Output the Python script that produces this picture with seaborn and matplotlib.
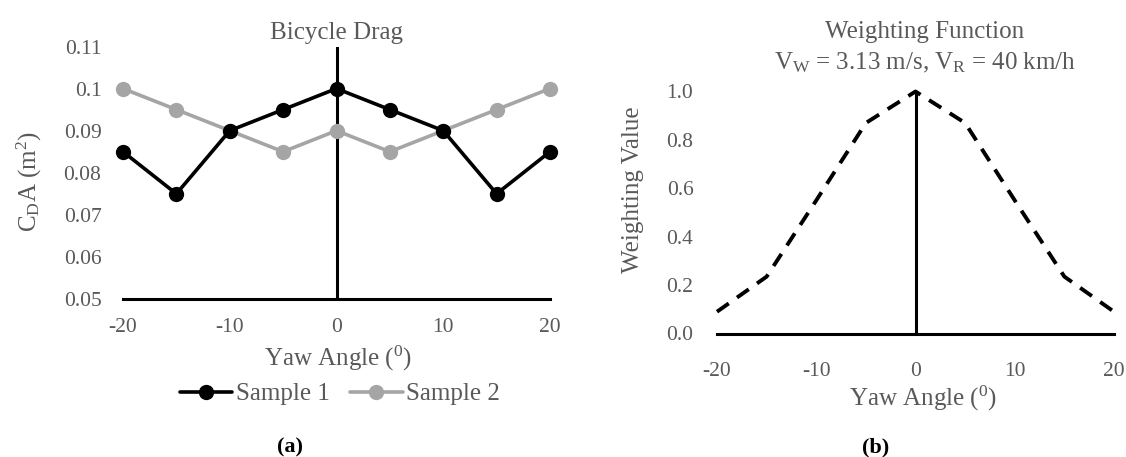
import matplotlib
matplotlib.use("Agg")
import matplotlib.pyplot as plt
import seaborn as sns
import pandas as pd

# ---- data ----
yaw = [-20, -15, -10, -5, 0, 5, 10, 15, 20]
sample1 = [0.085, 0.075, 0.09, 0.095, 0.10, 0.095, 0.09, 0.075, 0.085]
sample2 = [0.10, 0.095, 0.09, 0.085, 0.09, 0.085, 0.09, 0.095, 0.10]
weight = [0.09, 0.235, 0.55, 0.87, 1.0, 0.87, 0.55, 0.235, 0.09]

ya_ticks = [0.05, 0.06, 0.07, 0.08, 0.09, 0.10, 0.11]
ya_labels = ["0.05", "0.06", "0.07", "0.08", "0.09", "0.1", "0.11"]
yb_ticks = [0.0, 0.2, 0.4, 0.6, 0.8, 1.0]
yb_labels = ["0.0", "0.2", "0.4", "0.6", "0.8", "1.0"]
x_ticks = [-20, -10, 0, 10, 20]
x_labels = ["-20", "-10", "0", "10", "20"]

sns.set_style("white")
plt.rcParams['font.family'] = ['Liberation Serif', 'DejaVu Serif']
plt.rcParams['mathtext.fontset'] = 'custom'
plt.rcParams['mathtext.rm'] = 'Liberation Serif'
plt.rcParams['mathtext.it'] = 'Liberation Serif:italic'
plt.rcParams['mathtext.bf'] = 'Liberation Serif:bold'

TXT = "#595959"
GRAY = "#A5A5A5"
TICK_FS = 15.5
LAB_FS = 18

W, H = 1126, 457
fig = plt.figure(figsize=(W / 100, H / 100), dpi=100)
ax1 = fig.add_axes([123 / W, (H - 299) / H, 427 / W, 252.5 / H])
ax2 = fig.add_axes([717 / W, (H - 333.5) / H, 397 / W, 242 / H])

df = pd.DataFrame({"yaw": yaw, "Sample 1": sample1, "Sample 2": sample2, "weight": weight})

# ---- panel a ----
ax1.axvline(0, color="black", lw=2.2, zorder=1)
sns.lineplot(data=df, x="yaw", y="Sample 1", ax=ax1, color="black", lw=2.6,
             marker="o", markersize=11, markeredgewidth=0, label="Sample 1",
             clip_on=False, zorder=3)
sns.lineplot(data=df, x="yaw", y="Sample 2", ax=ax1, color=GRAY, lw=2.6,
             marker="o", markersize=11, markeredgewidth=0, label="Sample 2",
             clip_on=False, zorder=2)
ax1.set_xlim(-20, 20)
ax1.set_ylim(0.05, 0.11)
ax1.set_yticks(ya_ticks, ya_labels)
ax1.set_xticks(x_ticks, x_labels)
for s in ["top", "right", "left"]:
    ax1.spines[s].set_visible(False)
ax1.spines["bottom"].set_color("black")
ax1.spines["bottom"].set_linewidth(2.2)
ax1.tick_params(axis="x", length=0, pad=14, labelsize=TICK_FS, labelcolor=TXT)
ax1.tick_params(axis="y", length=0, pad=15.5, labelsize=TICK_FS, labelcolor=TXT)
ax1.set_xlabel("Yaw Angle ($^{0}$)", fontsize=LAB_FS, color=TXT, va="center")
ax1.xaxis.set_label_coords(0.503, -0.236)
ax1.set_ylabel(r"C$_\mathrm{D}$A (m$^\mathrm{2}$)", fontsize=LAB_FS, color=TXT, va="center")
ax1.yaxis.set_label_coords(-0.218, 0.467)
ax1.text(0.5, 1.053, "Bicycle Drag", transform=ax1.transAxes, ha="center",
         va="center", fontsize=LAB_FS, color=TXT)
h, l = ax1.get_legend_handles_labels()
ax1.legend(h, l, loc="center", bbox_to_anchor=(340 / W, (H - 394) / H),
           bbox_transform=fig.transFigure, ncol=2, frameon=False,
           fontsize=LAB_FS, labelcolor=TXT, handlelength=2.1,
           handletextpad=0.15, columnspacing=0.8)

# ---- panel b ----
ax2.axvline(0, color="black", lw=2.2, zorder=1)
sns.lineplot(data=df, x="yaw", y="weight", ax=ax2, color="black", lw=2.8,
             clip_on=False, zorder=2)
ax2.lines[-1].set_linestyle((0, (3.7, 2.6)))
ax2.set_xlim(-20, 20)
ax2.set_ylim(0.0, 1.0)
ax2.set_yticks(yb_ticks, yb_labels)
ax2.set_xticks(x_ticks, x_labels)
for s in ["top", "right", "left"]:
    ax2.spines[s].set_visible(False)
ax2.spines["bottom"].set_color("black")
ax2.spines["bottom"].set_linewidth(2.2)
ax2.tick_params(axis="x", length=0, pad=20.5, labelsize=TICK_FS, labelcolor=TXT)
ax2.tick_params(axis="y", length=0, pad=17, labelsize=TICK_FS, labelcolor=TXT)
ax2.set_xlabel("Yaw Angle ($^{0}$)", fontsize=LAB_FS, color=TXT, va="center")
ax2.xaxis.set_label_coords(0.52, -0.2665)
ax2.set_ylabel("Weighting Value", fontsize=LAB_FS, color=TXT, va="center")
ax2.yaxis.set_label_coords(-0.2116, 0.593)
ax2.text(0.524, 1.246, "Weighting Function", transform=ax2.transAxes,
         ha="center", va="center", fontsize=LAB_FS, color=TXT)
ax2.text(0.524, 1.118, r"V$_\mathrm{W}$ = 3.13 m/s, V$_\mathrm{R}$ = 40 km/h",
         transform=ax2.transAxes, ha="center", va="center", fontsize=LAB_FS, color=TXT)

fig.text(290 / W, (H - 447) / H, "(a)", ha="center", va="center",
         fontsize=16, fontweight="bold", color="black")
fig.text(876 / W, (H - 447) / H, "(b)", ha="center", va="center",
         fontsize=16, fontweight="bold", color="black")

fig.savefig("out.png", dpi=100)
